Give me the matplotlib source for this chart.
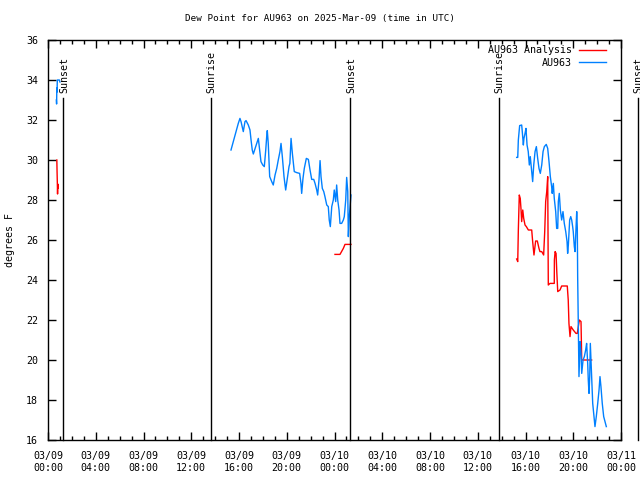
import numpy as np
import matplotlib
matplotlib.use("Agg")
import matplotlib.pyplot as plt
import matplotlib.dates as mdates
from datetime import datetime, timedelta

plt.rcParams['font.family'] = ['DejaVu Sans Mono']
plt.rcParams['font.size'] = 7.2

BASE = datetime(2025, 3, 9, 0, 0)

# AU963 observations (hours since 2025-03-09 00:00 UTC, dew point F)
obs_hours_1 = [0.70, 0.72, 0.74, 0.76, 0.78, 0.95, 1.00]
obs_vals_1 = [33.0, 32.8, 33.6, 33.4, 34.0, 34.0, 33.9]

obs_hours_2 = [15.33, 15.52, 15.75, 15.94, 16.08, 16.17, 16.36, 16.50, 16.59, 16.78,
               16.92, 17.01, 17.11, 17.20, 17.40, 17.57, 17.62, 17.73, 17.84, 17.99,
               18.12, 18.24, 18.32, 18.37, 18.45, 18.57, 18.74, 18.87, 19.02, 19.16,
               19.29, 19.43, 19.52, 19.63, 19.77, 19.91, 20.05, 20.19, 20.26, 20.36,
               20.47, 20.63, 20.83, 21.08, 21.19, 21.25, 21.36, 21.47, 21.64, 21.81,
               21.95, 22.09, 22.26, 22.37, 22.51, 22.59, 22.70, 22.79, 22.87, 22.98,
               23.10, 23.20, 23.35, 23.48, 23.56, 23.65, 23.77, 23.90, 23.98, 24.10,
               24.18, 24.27, 24.38, 24.46, 24.60, 24.74, 24.82, 24.94, 25.02, 25.11,
               25.16, 25.24, 25.38]
obs_vals_2 = [30.50, 30.92, 31.42, 31.83, 32.08, 31.92, 31.42, 31.92, 31.97, 31.75,
              31.50, 31.00, 30.50, 30.30, 30.67, 31.00, 31.08, 30.50, 29.92, 29.75,
              29.67, 30.50, 31.17, 31.47, 30.83, 29.17, 28.92, 28.75, 29.25, 29.58,
              30.00, 30.42, 30.83, 30.17, 29.17, 28.50, 29.08, 29.67, 29.83, 31.08,
              30.33, 29.42, 29.37, 29.33, 28.83, 28.33, 29.08, 29.58, 30.08, 30.03,
              29.50, 29.03, 29.03, 28.83, 28.50, 28.25, 29.00, 29.97, 29.17, 28.58,
              28.42, 28.17, 27.75, 27.67, 27.00, 26.67, 27.67, 28.00, 28.50, 27.92,
              28.75, 28.00, 27.50, 26.83, 26.83, 27.00, 27.17, 28.00, 29.13, 28.42,
              26.17, 27.17, 28.25]

obs_hours_3 = [39.26, 39.35, 39.40, 39.51, 39.68, 39.73, 39.82, 39.87, 39.96, 40.04,
               40.13, 40.23, 40.32, 40.40, 40.52, 40.60, 40.69, 40.80, 40.91, 41.02,
               41.13, 41.24, 41.36, 41.47, 41.58, 41.74, 41.86, 41.97, 42.08, 42.19,
               42.24, 42.33, 42.41, 42.53, 42.61, 42.70, 42.75, 42.83, 42.92, 43.03,
               43.14, 43.25, 43.37, 43.48, 43.53, 43.59, 43.70, 43.79, 43.87, 43.95,
               44.00, 44.09, 44.15, 44.23, 44.29, 44.34, 44.37, 44.42, 44.48, 44.57,
               44.65, 44.71, 44.82, 44.93, 45.04, 45.12, 45.21, 45.26, 45.32, 45.38,
               45.43, 45.54, 45.63, 45.74, 45.82, 45.93, 46.05, 46.16, 46.24, 46.32,
               46.43, 46.55, 46.66, 46.77]
obs_vals_3 = [30.13, 30.13, 31.00, 31.72, 31.75, 31.42, 30.75, 31.08, 31.33, 31.58,
              30.75, 30.42, 29.75, 30.17, 29.42, 28.92, 29.75, 30.42, 30.67, 30.08,
              29.58, 29.33, 29.75, 30.42, 30.67, 30.78, 30.58, 29.92, 29.17, 28.67,
              28.33, 28.83, 28.08, 27.42, 26.58, 26.58, 27.92, 28.33, 27.50, 27.00,
              27.42, 26.83, 26.42, 25.92, 25.33, 25.75, 27.00, 27.17, 27.00, 26.67,
              26.42, 25.67, 25.42, 26.58, 27.42, 26.58, 24.17, 21.83, 19.17, 20.92,
              20.33, 19.33, 20.00, 20.17, 20.50, 20.83, 19.83, 19.00, 18.33, 19.17,
              20.83, 19.25, 17.83, 17.17, 16.67, 17.17, 17.83, 18.50, 19.17, 18.67,
              17.83, 17.17, 16.92, 16.67]

# AU963 Analysis
ana_hours_1 = [0.74, 0.76, 0.78, 0.80, 0.82, 0.85]
ana_vals_1 = [30.0, 29.4, 28.9, 28.3, 28.8, 28.6]

ana_hours_2 = [24.04, 24.46, 24.74, 24.88, 25.38]
ana_vals_2 = [25.28, 25.28, 25.58, 25.78, 25.78]

ana_hours_3 = [39.26, 39.35, 39.40, 39.48, 39.56, 39.62, 39.68, 39.77, 39.85, 39.96,
               40.07, 40.24, 40.52, 40.60, 40.71, 40.85, 40.99, 41.13, 41.21, 41.36,
               41.52, 41.61, 41.69, 41.78, 41.86, 41.91, 42.05, 42.41, 42.42, 42.48,
               42.56, 42.62, 42.70, 42.89, 43.03, 43.50, 43.58, 43.64, 43.73, 43.81,
               44.00, 44.23, 44.34, 44.51, 44.65, 44.71, 45.54]
ana_vals_3 = [25.05, 24.92, 26.50, 28.25, 28.08, 27.58, 26.92, 27.50, 27.08, 26.75,
              26.67, 26.50, 26.50, 25.92, 25.25, 25.95, 25.95, 25.58, 25.42, 25.42,
              25.25, 26.42, 27.92, 28.42, 29.17, 23.75, 23.83, 23.83, 25.00, 25.42,
              25.33, 24.42, 23.42, 23.50, 23.70, 23.70, 23.00, 21.83, 21.17, 21.67,
              21.50, 21.33, 21.33, 22.00, 21.92, 20.00, 20.00]

# Sun events (hours since 2025-03-09 00:00 UTC)
sun_hours = [1.26, 13.65, 25.30, 37.78, 49.42]
sun_labels = ["Sunset", "Sunrise", "Sunset", "Sunrise", "Sunset"]


def to_dates(hours):
    return [BASE + timedelta(hours=h) for h in hours]


def join(segs_h, segs_v):
    t, v = [], []
    for hs, vs in zip(segs_h, segs_v):
        if t:
            t.append(BASE + timedelta(hours=hs[0] - 0.01))
            v.append(np.nan)
        t.extend(to_dates(hs))
        v.extend(vs)
    return t, v


fig = plt.figure(figsize=(6.4, 4.8), dpi=100)
ax = fig.add_axes([48 / 640, 40 / 480, 573 / 640, 400 / 480])

ana_t, ana_v = join([ana_hours_1, ana_hours_2, ana_hours_3], [ana_vals_1, ana_vals_2, ana_vals_3])
obs_t, obs_v = join([obs_hours_1, obs_hours_2, obs_hours_3], [obs_vals_1, obs_vals_2, obs_vals_3])

ax.plot(ana_t, ana_v, color='#ff0000', lw=1.0, label='AU963 Analysis')
ax.plot(obs_t, obs_v, color='#0080ff', lw=1.0, label='AU963')

ax.set_xlim(BASE, BASE + timedelta(hours=48))
ax.set_ylim(16, 36)

for h, lab in zip(sun_hours, sun_labels):
    d = BASE + timedelta(hours=h)
    ax.plot([d, d], [16, 33.08], color='black', lw=1.0, clip_on=False)
    ax.text(mdates.date2num(d) + 0.003, 33.35, lab, rotation=90, ha='center', va='bottom',
            clip_on=False, fontsize=7.2)

ax.xaxis.set_major_locator(mdates.HourLocator(byhour=range(0, 24, 4)))
ax.xaxis.set_minor_locator(mdates.HourLocator())
ax.xaxis.set_major_formatter(mdates.DateFormatter('%m/%d\n%H:%M'))
ax.set_yticks(np.arange(16, 37, 2))

ax.tick_params(which='both', direction='in', top=True, right=True, width=1.0, color='black')
ax.tick_params(axis='x', which='major', length=6, pad=8)
ax.tick_params(axis='y', which='major', length=6, pad=7)
ax.tick_params(which='minor', length=3)
for s in ax.spines.values():
    s.set_linewidth(1.0)

fig.text(0.5, 1 - 19 / 480, 'Dew Point for AU963 on 2025-Mar-09 (time in UTC)',
         fontsize=6.7, ha='center', va='center')
ax.set_ylabel('degrees F', fontsize=7.2, labelpad=8)

leg = ax.legend(loc='upper right', frameon=False, markerfirst=False, handlelength=2.7,
                borderaxespad=0.15, borderpad=0.4, labelspacing=0.25, handletextpad=0.7,
                fontsize=7.2)
for t in leg.get_texts():
    t.set_ha('right')
leg.set_bbox_to_anchor((1.0 - 10 / 573, 1.0), transform=ax.transAxes)

fig.savefig('out.png', dpi=100)
